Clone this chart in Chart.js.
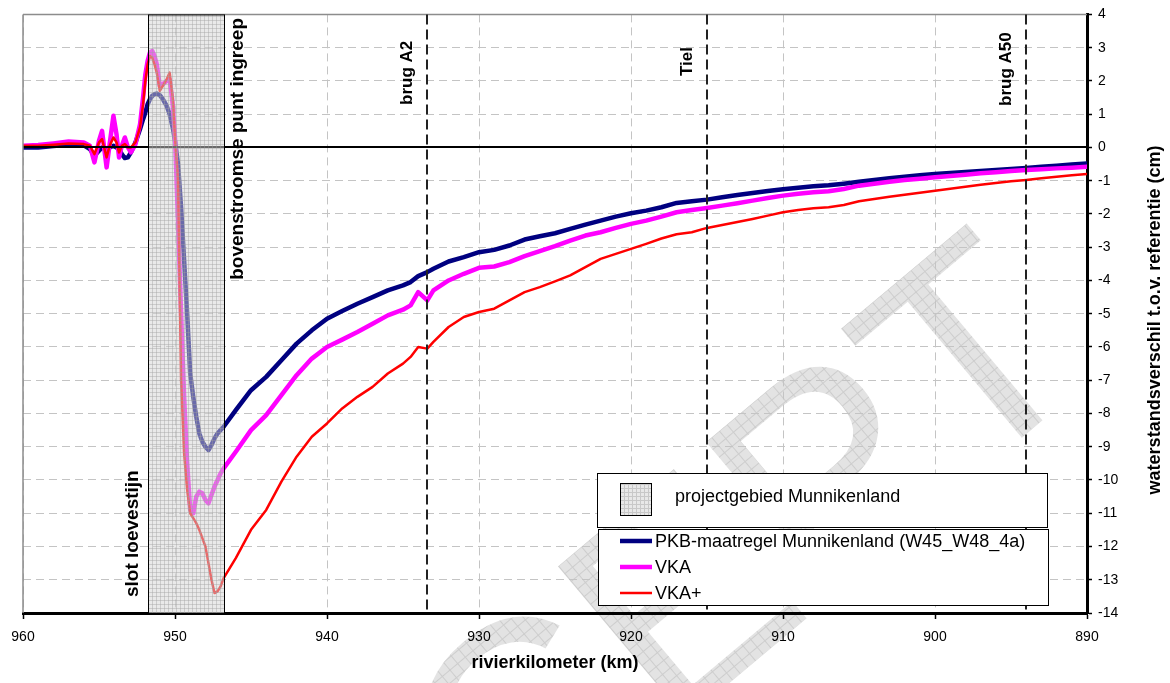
<!DOCTYPE html>
<html>
<head>
<meta charset="utf-8">
<script src="https://cdn.jsdelivr.net/npm/chart.js"></script>
<style>
  html, body { margin: 0; padding: 0; background: #fff; }
  #chart { display: block; }
</style>
</head>
<body>
<canvas id="chart" width="1170" height="683"></canvas>
<script>
// rivierkilometer (x) and waterstandsverschil in cm (y)
const km = [
    960, 959, 958, 957, 956,
    955.6, 955.3, 955.0, 954.8, 954.5, 954.3, 954.05, 953.85, 953.68, 953.5, 953.3, 953.1, 952.9,
    952.6, 952.3, 952.1, 951.95, 951.8, 951.65, 951.5, 951.35, 951.2, 951.0, 950.8, 950.55, 950.35, 950.15, 950.0,
    949.8, 949.6, 949.4, 949.2, 949.0, 948.8, 948.6, 948.4, 948.2, 948.0, 947.8, 947.6, 947.4, 947.2, 947.0, 946.8,
    946, 945, 944, 943, 942, 941, 940, 939, 938, 937, 936, 935, 934.5, 934, 933.4, 933,
    932, 931, 930, 929, 928, 927, 926, 925, 924, 923, 922, 921, 920, 919, 918, 917, 916, 915, 914, 913, 912,
    911, 910, 909, 908, 907, 906, 905, 904, 903, 902, 901, 900, 899, 898, 897, 896, 895, 894, 893, 892, 891, 890
];

const pkb = [
    0.0, 0.0, 0.04, 0.08, 0.06,
    -0.05, -0.25, -0.1, 0.0, -0.05, 0.0, 0.05, 0.0, -0.05, -0.2, -0.32, -0.3, -0.15,
    0.15, 0.55, 0.85, 1.05, 1.3, 1.45, 1.55, 1.6, 1.62, 1.57, 1.45, 1.25, 1.0, 0.6, 0.2,
    -0.5, -1.8, -3.4, -5.0, -6.8, -7.5, -8.1, -8.6, -8.85, -9.0, -9.1, -8.95, -8.75, -8.6, -8.5, -8.4,
    -7.9, -7.3, -6.9, -6.4, -5.9, -5.5, -5.15, -4.92, -4.7, -4.5, -4.3, -4.15, -4.05, -3.87, -3.75, -3.65,
    -3.43, -3.3, -3.15, -3.08, -2.95, -2.77, -2.67, -2.58, -2.45, -2.32, -2.2, -2.08, -1.98, -1.9, -1.8, -1.67, -1.62, -1.57, -1.5, -1.43, -1.37,
    -1.31, -1.26, -1.21, -1.17, -1.14, -1.09, -1.03, -0.98, -0.93, -0.88, -0.84, -0.8, -0.77, -0.74, -0.71, -0.68, -0.65, -0.62, -0.58, -0.55, -0.51, -0.48
];

const vka = [
    0.05, 0.07, 0.12, 0.18, 0.15,
    0.05, -0.45, 0.2, 0.5, -0.6, 0.1, 0.95, 0.4, -0.3, 0.05, 0.3, 0.0, -0.15,
    0.1, 0.7, 1.5, 2.2, 2.6, 2.85, 2.9, 2.75, 2.5, 1.85, 1.9, 2.0, 2.05, 1.3, 0.3,
    -2.2, -5.0, -7.5, -9.5, -10.9, -11.0, -10.5, -10.35, -10.4, -10.6, -10.7, -10.45, -10.2, -10.0, -9.8, -9.65,
    -9.15, -8.5, -8.05, -7.45, -6.85, -6.35, -6.0, -5.78, -5.55, -5.3, -5.05, -4.88, -4.75, -4.35, -4.6, -4.3,
    -4.0, -3.8, -3.62, -3.58, -3.45, -3.27, -3.12, -2.97, -2.8, -2.65, -2.55, -2.42, -2.3, -2.2, -2.08, -1.95, -1.88, -1.82, -1.75, -1.68, -1.6,
    -1.52, -1.45, -1.39, -1.35, -1.32, -1.25, -1.15, -1.09, -1.03, -0.98, -0.94, -0.9, -0.86, -0.82, -0.78, -0.75, -0.71, -0.68, -0.66, -0.63, -0.61, -0.58
];

const vkaPlus = [
    0.05, 0.05, 0.08, 0.12, 0.1,
    0.05, -0.2, 0.15, 0.25, -0.3, 0.05, 0.3, 0.15, -0.15, 0.05, 0.1, 0.0, 0.0,
    0.15, 0.6, 1.3, 2.0, 2.5, 2.75, 2.7, 2.5, 2.25, 1.7, 1.85, 2.05, 2.25, 1.5, 0.3,
    -1.0, -7.0, -9.2, -10.3, -11.0, -11.15, -11.3, -11.5, -11.75, -12.0, -12.5, -13.0, -13.4, -13.35, -13.2, -12.95,
    -12.35, -11.5, -10.9, -10.05, -9.3, -8.7, -8.3, -7.85, -7.5, -7.2, -6.8, -6.5, -6.3, -6.0, -6.05, -5.85,
    -5.4, -5.1, -4.95, -4.85, -4.6, -4.35, -4.2, -4.03, -3.85, -3.6, -3.35, -3.2, -3.05, -2.9, -2.74, -2.61, -2.55, -2.42, -2.33, -2.24, -2.15,
    -2.05, -1.95, -1.88, -1.83, -1.8, -1.73, -1.62, -1.55, -1.48, -1.42, -1.36, -1.3, -1.24, -1.18, -1.12, -1.07, -1.02, -0.98, -0.93, -0.88, -0.84, -0.8
];

const seriesLabels = ['PKB-maatregel Munnikenland (W45_W48_4a)', 'VKA', 'VKA+'];
const seriesColors = ['#000080', '#ff00ff', '#ff0000'];

// axis ranges
const kmRange = [890, 960];
const cmRange = [-14, 4];

// projectgebied and reference points along the river
const projectArea = [951.8, 946.8];
const projectLabel = 'projectgebied Munnikenland';
const areaLabels = ['slot loevestijn', 'bovenstroomse punt ingreep'];
const markerKm = [933.4, 915.0, 894.0];
const markerLabels = ['brug A2', 'Tiel', 'brug A50'];

const xTitle = 'rivierkilometer (km)';
const yTitle = 'waterstandsverschil t.o.v. referentie (cm)';
const watermark = 'CONCEPT';

const FONT = '"Liberation Sans", Arial, sans-serif';
Chart.defaults.font.family = FONT;
Chart.defaults.color = '#000';

function makePattern(ctx, size, bg, line) {
    const c = document.createElement('canvas');
    c.width = size;
    c.height = size;
    const p = c.getContext('2d');
    p.fillStyle = bg;
    p.fillRect(0, 0, size, size);
    p.fillStyle = line;
    p.fillRect(0, 0, size, 1);
    p.fillRect(0, 0, 1, size);
    return ctx.createPattern(c, 'repeat');
}

function vText(ctx, text, x, y, align) {
    ctx.save();
    ctx.translate(x, y);
    ctx.rotate(-Math.PI / 2);
    ctx.textAlign = align;
    ctx.textBaseline = 'middle';
    ctx.fillText(text, 0, 0);
    ctx.restore();
}

function line(ctx, x1, y1, x2, y2) {
    ctx.beginPath();
    ctx.moveTo(x1, y1);
    ctx.lineTo(x2, y2);
    ctx.stroke();
}

const overlay = {
    id: 'overlay',
    beforeDraw(chart) {
        const ctx = chart.ctx;
        ctx.save();
        ctx.fillStyle = '#fff';
        ctx.fillRect(0, 0, chart.width, chart.height);
        // watermark
        ctx.translate(1100, 372);
        ctx.rotate(-40 * Math.PI / 180);
        ctx.font = '290px ' + FONT;
        ctx.textAlign = 'right';
        ctx.textBaseline = 'alphabetic';
        ctx.fillStyle = makePattern(ctx, 10, '#e3e3e3', '#cdcdcd');
        ctx.fillText(watermark, 0, 0);
        ctx.restore();
    },
    afterDatasetsDraw(chart) {
        const { ctx, chartArea: a, scales: { x, y } } = chart;
        ctx.save();

        // nullijn
        const y0 = Math.round(y.getPixelForValue(0));
        ctx.strokeStyle = '#000';
        ctx.lineWidth = 2;
        line(ctx, a.left, y0, a.right, y0);

        // grey frame left and top
        ctx.strokeStyle = '#8c8c8c';
        ctx.lineWidth = 1.5;
        line(ctx, a.left, a.top, a.right, a.top);
        line(ctx, a.left, a.top, a.left, a.bottom);

        // projectgebied
        const x1 = Math.round(x.getPixelForValue(projectArea[0]));
        const x2 = Math.round(x.getPixelForValue(projectArea[1]));
        ctx.fillStyle = makePattern(ctx, 4, 'rgba(212,212,212,0.5)', 'rgba(160,160,160,0.4)');
        ctx.fillRect(x1, a.top, x2 - x1, a.bottom - a.top);
        ctx.strokeStyle = '#000';
        ctx.lineWidth = 1;
        ctx.strokeRect(x1 + 0.5, a.top + 0.5, x2 - x1, a.bottom - a.top);

        // reference points
        ctx.setLineDash([10, 5]);
        ctx.strokeStyle = '#222';
        ctx.lineWidth = 2;
        markerKm.forEach(k => {
            const px = Math.round(x.getPixelForValue(k));
            line(ctx, px, a.top, px, a.bottom);
        });
        ctx.setLineDash([]);

        ctx.fillStyle = '#000';
        ctx.font = 'bold 19px ' + FONT;
        vText(ctx, areaLabels[0], x1 - 15, 597, 'left');
        vText(ctx, areaLabels[1], x2 + 14, 18, 'right');
        ctx.font = 'bold 17px ' + FONT;
        const labelBase = [105, 76, 106];
        markerKm.forEach((k, i) => {
            vText(ctx, markerLabels[i], x.getPixelForValue(k) - 20, labelBase[i], 'left');
        });
        ctx.restore();
    },
    afterDraw(chart) {
        const ctx = chart.ctx;
        ctx.save();

        // y axis title, reads bottom to top
        ctx.fillStyle = '#000';
        ctx.font = 'bold 18px ' + FONT;
        vText(ctx, yTitle, 1155, 320, 'center');

        // legend: project area box
        ctx.lineWidth = 1;
        ctx.strokeStyle = '#000';
        ctx.fillStyle = '#fff';
        ctx.fillRect(597, 473, 450, 54);
        ctx.strokeRect(597.5, 473.5, 450, 54);
        ctx.fillStyle = makePattern(ctx, 4, '#e8e8e8', '#c8c8c8');
        ctx.fillRect(620, 483, 31, 32);
        ctx.strokeRect(620.5, 483.5, 31, 32);
        ctx.fillStyle = '#000';
        ctx.font = '18px ' + FONT;
        ctx.textAlign = 'left';
        ctx.textBaseline = 'middle';
        ctx.fillText(projectLabel, 675, 497);

        // legend: series box
        ctx.fillStyle = '#fff';
        ctx.fillRect(598, 529, 450, 76);
        ctx.strokeRect(598.5, 529.5, 450, 76);
        ctx.font = '18px ' + FONT;
        chart.data.datasets.forEach((ds, i) => {
            const ly = 541 + i * 26;
            ctx.strokeStyle = ds.borderColor;
            ctx.lineWidth = ds.borderWidth;
            line(ctx, 620, ly, 652, ly);
            ctx.fillStyle = '#000';
            ctx.fillText(ds.label, 655, ly + 1);
        });
        ctx.restore();
    }
};

const series = [pkb, vka, vkaPlus];
const widths = [4.5, 4.5, 2.5];

const ctx = document.getElementById('chart').getContext('2d');
const chart = new Chart(ctx, {
    type: 'line',
    data: {
        datasets: series.map((values, i) => ({
            label: seriesLabels[i],
            data: km.map((k, j) => ({ x: k, y: values[j] })),
            borderColor: seriesColors[i],
            backgroundColor: seriesColors[i],
            borderWidth: widths[i],
            pointRadius: 0,
            tension: 0,
            borderJoinStyle: 'round',
            borderCapStyle: 'round',
            order: 3 - i
        }))
    },
    options: {
        responsive: false,
        animation: false,
        devicePixelRatio: 1,
        layout: {
            padding: { left: 23, top: 12, right: 0, bottom: 0 }
        },
        scales: {
            x: {
                type: 'linear',
                position: 'bottom',
                reverse: true,
                min: kmRange[0],
                max: kmRange[1],
                ticks: {
                    stepSize: 10,
                    padding: 10,
                    maxRotation: 0,
                    font: { size: 14 },
                    color: '#000'
                },
                grid: {
                    color: '#c4c4c4',
                    lineWidth: 1,
                    tickColor: '#000',
                    tickLength: 6,
                    tickWidth: 1.5
                },
                border: { color: '#000', width: 3, dash: [8, 5] },
                title: {
                    display: true,
                    text: xTitle,
                    font: { size: 18, weight: 'bold' },
                    padding: { top: 0, bottom: 9 }
                },
                afterFit: function(scale) {
                    scale.height = 70;
                }
            },
            y: {
                type: 'linear',
                position: 'right',
                min: cmRange[0],
                max: cmRange[1],
                ticks: {
                    stepSize: 1,
                    padding: 6,
                    font: { size: 14 },
                    color: '#000',
                    callback: function(value) {
                        return String(value);
                    }
                },
                grid: {
                    color: '#c4c4c4',
                    lineWidth: 1,
                    tickColor: '#000',
                    tickLength: 5,
                    tickWidth: 1.5
                },
                border: { color: '#000', width: 3, dash: [8, 5] },
                afterFit: function(scale) {
                    scale.width = 83;
                }
            }
        },
        plugins: {
            legend: { display: false },
            tooltip: { enabled: false }
        }
    },
    plugins: [overlay]
});
</script>
</body>
</html>
